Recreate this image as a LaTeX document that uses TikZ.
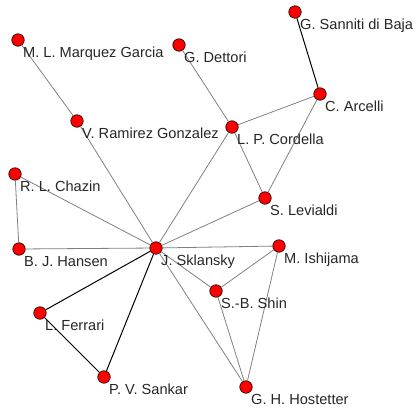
\documentclass[tikz,border=0pt]{standalone}
\usepackage{fontspec}
\setmainfont{Liberation Sans}
\begin{document}
\begin{tikzpicture}[x=1pt,y=-1pt,
  vertex/.style={circle,draw=black,line width=0.6pt,fill=red,inner sep=0pt,minimum size=12.5pt},
  tie/.style={draw=black!50,line width=0.8pt},
  strong/.style={draw=black,line width=1pt},
  caption/.style={anchor=base west,inner sep=0pt,font=\fontsize{14.6}{17}\selectfont,text=black!85}]
\useasboundingbox (0,0) rectangle (416,410);
% vertices
\node[vertex] (mlm) at (18,40) {};
\node[vertex] (gd)  at (179,45) {};
\node[vertex] (gsb) at (295,12) {};
\node[vertex] (ca)  at (320,94) {};
\node[vertex] (lpc) at (232,127) {};
\node[vertex] (vrg) at (77,121) {};
\node[vertex] (sl)  at (265,198) {};
\node[vertex] (rlc) at (15,174) {};
\node[vertex] (bjh) at (19,249) {};
\node[vertex] (js)  at (156,248) {};
\node[vertex] (mi)  at (279,246) {};
\node[vertex] (sbs) at (216,291) {};
\node[vertex] (ghh) at (246,387) {};
\node[vertex] (lf)  at (40,313) {};
\node[vertex] (pvs) at (104,377) {};
% weak ties
\draw[tie] (mlm) -- (vrg);
\draw[tie] (vrg) -- (js);
\draw[tie] (gd) -- (lpc);
\draw[tie] (ca) -- (lpc);
\draw[tie] (ca) -- (sl);
\draw[tie] (lpc) -- (sl);
\draw[tie] (lpc) -- (js);
\draw[tie] (sl) -- (js);
\draw[tie] (rlc) -- (bjh);
\draw[tie] (rlc) -- (js);
\draw[tie] (bjh) -- (js);
\draw[tie] (js) -- (mi);
\draw[tie] (js) -- (sbs);
\draw[tie] (js) -- (ghh);
\draw[tie] (mi) -- (sbs);
\draw[tie] (mi) -- (ghh);
\draw[tie] (sbs) -- (ghh);
% strong ties
\draw[strong] (gsb) -- (ca);
\draw[strong] (js) -- (lf);
\draw[strong] (js) -- (pvs);
\draw[strong] (lf) -- (pvs);
% names
\node[caption] (tmlm) at (23,57) {M. L. Marquez Garcia};
\node[caption] (tgd)  at (184,62) {G. Dettori};
\node[caption] (tgsb) at (300,29) {G. Sanniti di Baja};
\node[caption] (tca)  at (325,111) {C. Arcelli};
\node[caption] (tlpc) at (237,144) {L. P. Cordella};
\node[caption] (tvrg) at (82,138) {V. Ramirez Gonzalez};
\node[caption] (tsl)  at (270,215) {S. Levialdi};
\node[caption] (trlc) at (20,191) {R. L. Chazin};
\node[caption] (tbjh) at (24,266) {B. J. Hansen};
\node[caption] (tjs)  at (161,265) {J. Sklansky};
\node[caption] (tmi)  at (284,263) {M. Ishijama};
\node[caption] (tsbs) at (221,308) {S.-B. Shin};
\node[caption] (tghh) at (251,404) {G. H. Hostetter};
\node[caption] (tlf)  at (45,330) {L. Ferrari};
\node[caption] (tpvs) at (109,394) {P. V. Sankar};
\end{tikzpicture}
\end{document}
